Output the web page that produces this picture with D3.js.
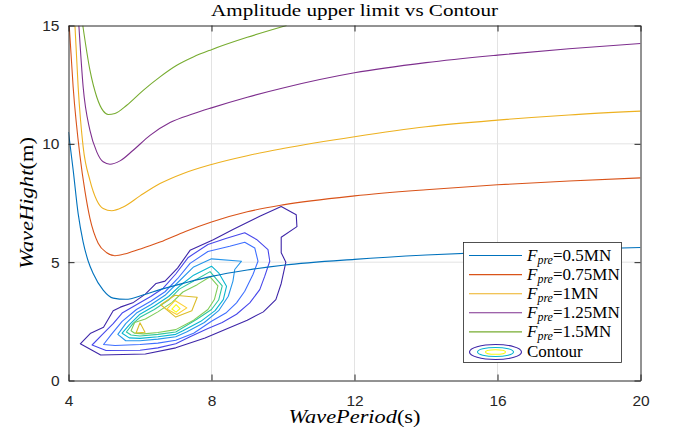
<!DOCTYPE html>
<html>
<head>
<meta charset="utf-8">
<script src="https://cdn.jsdelivr.net/npm/d3@7"></script>
<style>
body { margin: 0; background: #fff; }
svg { display: block; }
</style>
</head>
<body>
<svg></svg>
<script>
let width = 674,
    height = 440;

// force curves, [wave period (s), wave height (m)]
const forceNames = ["0.5MN", "0.75MN", "1MN", "1.25MN", "1.5MN"];
const curve05 = [[4.0,10.5],[4.13,8.9],[4.27,7.05],[4.41,5.85],[4.55,5.05],[4.69,4.52],[4.97,3.82],[5.25,3.48],[5.6,3.43],[6.1,3.62],[6.56,3.84],[7.27,4.13],[8,4.4],[9,4.67],[10,4.87],[12,5.12],[14,5.3],[16,5.43],[18,5.54],[20,5.62]];
const curve075 = [[4.02,15],[4.13,12.4],[4.32,9.5],[4.46,8.0],[4.6,6.85],[4.83,5.8],[5.07,5.4],[5.3,5.27],[5.63,5.37],[6.09,5.6],[6.56,5.85],[7.27,6.3],[8,6.7],[9,7.13],[10,7.42],[12,7.8],[14,8.06],[16,8.27],[18,8.43],[20,8.56]];
const curve1 = [[4.18,15],[4.27,12.4],[4.41,9.87],[4.6,8.46],[4.79,7.62],[4.97,7.27],[5.21,7.17],[5.53,7.33],[6.0,7.8],[6.56,8.32],[7.21,8.75],[8,9.13],[9,9.5],[10,9.8],[12,10.3],[14,10.72],[16,11.0],[18,11.22],[20,11.38]];
const curve125 = [[4.29,15],[4.41,12.4],[4.6,10.57],[4.79,9.66],[4.97,9.24],[5.16,9.14],[5.44,9.28],[5.81,9.73],[6.28,10.36],[6.84,10.9],[7.49,11.27],[8,11.52],[9,11.97],[10,12.36],[12,13.0],[14,13.43],[16,13.75],[18,14.02],[20,14.24]];
const curve15 = [[4.40,15],[4.6,13.11],[4.79,11.98],[4.97,11.39],[5.11,11.24],[5.3,11.28],[5.63,11.63],[6.09,12.26],[6.56,12.83],[7.03,13.32],[7.49,13.67],[8,13.98],[9,14.5],[10.1,15]];
const forceCurves = [curve05, curve075, curve1, curve125, curve15];
const lineColors = ["#0072BD", "#D95319", "#EDB120", "#7E2F8E", "#77AC30"];

// contour polygons, lowest level first
const contour1 = [[4.33,1.55],[4.62,2.0],[4.98,2.25],[5.25,2.95],[5.45,3.1],[5.82,3.3],[6.15,3.65],[6.45,4.1],[6.7,4.2],[7.05,4.75],[7.4,5.5],[8.05,5.95],[8.6,6.38],[9.35,6.94],[9.95,7.35],[10.37,7.0],[10.39,6.5],[9.95,6.05],[9.95,5.4],[10.08,5.0],[9.95,4.1],[9.8,3.42],[9.45,2.9],[9.0,2.55],[8.45,2.2],[7.82,1.8],[7.0,1.38],[6.15,1.12],[4.9,1.08]];
const contour2 = [[4.66,1.5],[4.95,1.95],[5.25,2.4],[5.5,2.85],[5.9,3.2],[6.3,3.55],[6.65,3.9],[7.0,4.5],[7.35,5.2],[7.9,5.75],[8.4,6.0],[8.93,6.24],[9.26,5.96],[9.58,5.53],[9.63,5.04],[9.49,4.41],[9.35,3.84],[9.07,3.28],[8.7,2.8],[8.3,2.45],[7.9,2.2],[7.4,1.85],[7.0,1.55],[6.5,1.38],[6.0,1.28],[5.05,1.27]];
const contour3 = [[4.98,1.52],[5.2,1.95],[5.5,2.5],[5.9,3.0],[6.3,3.35],[6.7,3.75],[7.05,4.3],[7.4,4.95],[7.9,5.45],[8.51,5.67],[8.93,5.84],[9.21,5.6],[9.3,5.04],[9.16,4.48],[8.93,3.77],[8.7,3.28],[8.4,2.85],[8.0,2.5],[7.5,2.0],[7.0,1.7],[6.5,1.58],[6.0,1.52],[5.3,1.48]];
const contour4 = [[5.38,1.95],[5.6,2.4],[5.9,2.85],[6.3,3.2],[6.7,3.6],[7.05,4.13],[7.5,4.8],[8.0,5.14],[8.84,5.04],[8.65,4.69],[8.6,4.2],[8.47,3.56],[8.2,2.95],[7.8,2.45],[7.3,2.05],[7.0,1.85],[6.5,1.75],[6.0,1.68],[5.6,1.68]];
const contour5 = [[5.5,2.0],[5.7,2.35],[6.0,2.8],[6.4,3.15],[6.8,3.55],[7.1,3.98],[7.5,4.45],[8.0,4.83],[8.2,4.55],[8.42,3.98],[8.33,3.42],[8.1,2.95],[7.7,2.5],[7.2,2.1],[7.0,1.95],[6.5,1.85],[6.0,1.78],[5.7,1.8]];
const contour6 = [[5.62,2.05],[5.8,2.4],[6.0,2.67],[6.4,3.0],[6.8,3.4],[7.1,3.86],[7.55,4.25],[7.96,4.6],[8.3,4.0],[8.2,3.4],[8.0,3.0],[7.6,2.6],[7.0,2.05],[6.5,1.95],[6.0,1.88],[5.75,1.92]];
const contour7 = [[5.75,2.1],[5.85,2.45],[6.15,2.6],[6.5,2.9],[6.9,3.3],[7.2,3.74],[7.6,4.05],[7.96,4.38],[8.18,4.0],[8.08,3.42],[7.9,3.0],[7.5,2.55],[7.0,2.15],[6.5,2.03],[6.1,1.97],[5.85,2.0]];
const contour8a = [[6.58,3.2],[6.98,3.6],[7.6,3.52],[7.45,2.95],[7.0,2.68]];
const contour8b = [[5.89,2.01],[6.0,2.44],[6.14,2.04]];
const contour9 = [[6.75,3.02],[6.98,3.38],[7.31,3.07],[7.03,2.79]];
const contour10 = [[6.89,3.02],[7.01,3.21],[7.12,3.04],[7.01,2.89]];
const contourLevels = [[contour1], [contour2], [contour3], [contour4], [contour5], [contour6], [contour7], [contour8a, contour8b], [contour9], [contour10]];
const contourColors = ["#3E26A8", "#4747EB", "#3E6FFF", "#2796EB", "#08B5D0", "#31C69F", "#80CC59", "#DCBD29", "#FCCF30", "#F9FB15"];

const xTicks = [4, 8, 12, 16, 20];
const yTicks = [0, 5, 10, 15];

let svg = d3.select("svg")
    .attr("width", width)
    .attr("height", height);

let x = d3.scaleLinear().domain([4, 20]).range([68.5, 640.5]);
let y = d3.scaleLinear().domain([0, 15]).range([380.5, 25.5]);

svg.append("rect").attr("width", width).attr("height", height).attr("fill", "#fff");

svg.append("clipPath").attr("id", "plotclip")
    .append("rect")
    .attr("x", x(4)).attr("y", y(15))
    .attr("width", x(20) - x(4)).attr("height", y(0) - y(15));

// grid
let grid = svg.append("g").attr("stroke", "#e3e3e3").attr("stroke-width", 1);
grid.selectAll(".gx").data(xTicks.slice(1, -1)).enter().append("line")
    .attr("x1", d => x(d)).attr("x2", d => x(d))
    .attr("y1", y(0)).attr("y2", y(15));
grid.selectAll(".gy").data(yTicks.slice(1, -1)).enter().append("line")
    .attr("x1", x(4)).attr("x2", x(20))
    .attr("y1", d => y(d)).attr("y2", d => y(d));

let plot = svg.append("g").attr("clip-path", "url(#plotclip)");

// contours
let polyLine = d3.line().x(d => x(d[0])).y(d => y(d[1])).curve(d3.curveLinearClosed);
contourLevels.forEach((polys, i) => {
    plot.append("g")
        .selectAll("path")
        .data(polys)
        .enter()
        .append("path")
        .attr("d", polyLine)
        .attr("fill", "none")
        .attr("stroke", contourColors[i])
        .attr("stroke-width", 1.1)
        .attr("stroke-linejoin", "round");
});

// force curves
let curveLine = d3.line().x(d => x(d[0])).y(d => y(d[1])).curve(d3.curveMonotoneX);
plot.append("g")
    .selectAll("path")
    .data(forceCurves)
    .enter()
    .append("path")
    .attr("d", curveLine)
    .attr("fill", "none")
    .attr("stroke", (d, i) => lineColors[i])
    .attr("stroke-width", 1.1);

// axes (ticks inside, box on)
let axisColor = "#262626";
let xAxis = svg.append("g")
    .attr("transform", "translate(0," + y(0) + ")")
    .call(d3.axisBottom(x).tickValues(xTicks).tickSizeInner(-6).tickSizeOuter(0).tickPadding(14));
let yAxis = svg.append("g")
    .attr("transform", "translate(" + x(4) + ",0)")
    .call(d3.axisLeft(y).tickValues(yTicks).tickSizeInner(-6).tickSizeOuter(0).tickPadding(9));
let xTop = svg.append("g")
    .attr("transform", "translate(0," + y(15) + ")")
    .call(d3.axisTop(x).tickValues(xTicks).tickSizeInner(-6).tickSizeOuter(0).tickFormat(""));
let yRight = svg.append("g")
    .attr("transform", "translate(" + x(20) + ",0)")
    .call(d3.axisRight(y).tickValues(yTicks).tickSizeInner(-6).tickSizeOuter(0).tickFormat(""));
[xAxis, yAxis, xTop, yRight].forEach(a => {
    a.selectAll("path").attr("stroke", axisColor).attr("stroke-width", 1);
    a.selectAll("line").attr("stroke", axisColor).attr("stroke-width", 1);
    a.selectAll("text")
        .attr("fill", axisColor)
        .style("font-family", "'Liberation Sans', Arial, sans-serif")
        .style("font-size", "15.5px");
});

// title and labels
let serif = "'Liberation Serif', 'Times New Roman', serif";
svg.append("text")
    .attr("x", (x(4) + x(20)) / 2).attr("y", 16)
    .attr("text-anchor", "middle")
    .attr("textLength", 287).attr("lengthAdjust", "spacingAndGlyphs")
    .style("font-family", serif).style("font-size", "17px")
    .text("Amplitude upper limit vs Contour");

let xl = svg.append("text")
    .attr("x", (x(4) + x(20)) / 2).attr("y", 423)
    .attr("text-anchor", "middle")
    .attr("textLength", 132).attr("lengthAdjust", "spacingAndGlyphs")
    .style("font-family", serif).style("font-size", "18px");
xl.append("tspan").style("font-style", "italic").text("WavePeriod");
xl.append("tspan").text("(s)");

let yl = svg.append("text")
    .attr("transform", "translate(33," + ((y(0) + y(15)) / 2) + ") rotate(-90)")
    .attr("text-anchor", "middle")
    .attr("textLength", 132).attr("lengthAdjust", "spacingAndGlyphs")
    .style("font-family", serif).style("font-size", "18px");
yl.append("tspan").style("font-style", "italic").text("WaveHight");
yl.append("tspan").text("(m)");

// legend
let lg = svg.append("g");
lg.append("rect")
    .attr("x", 463.5).attr("y", 242.5)
    .attr("width", 158).attr("height", 120)
    .attr("fill", "#fff").attr("stroke", axisColor).attr("stroke-width", 0.8);

forceNames.forEach((name, i) => {
    let ry = 255.5 + i * 19.1;
    lg.append("line")
        .attr("x1", 469).attr("x2", 522)
        .attr("y1", ry).attr("y2", ry)
        .attr("stroke", lineColors[i]).attr("stroke-width", 1.1);
    let t = lg.append("text")
        .attr("x", 527).attr("y", ry + 5)
        .style("font-family", serif).style("font-size", "17px");
    t.append("tspan").style("font-style", "italic").text("F");
    t.append("tspan").style("font-style", "italic").style("font-size", "12px").attr("dy", 3.5).text("pre");
    t.append("tspan").attr("dy", -3.5).text("=" + name);
});

let cy = 255.5 + 5 * 19.1 + 1;
[[26, 7.5, 0], [18, 4.5, 4], [10, 2.3, 9]].forEach(e => {
    lg.append("ellipse")
        .attr("cx", 495.5).attr("cy", cy)
        .attr("rx", e[0]).attr("ry", e[1])
        .attr("fill", "none")
        .attr("stroke", contourColors[e[2]])
        .attr("stroke-width", 1.1);
});
lg.append("text")
    .attr("x", 527).attr("y", cy + 5)
    .style("font-family", serif).style("font-size", "17px")
    .text("Contour");
</script>
</body>
</html>
